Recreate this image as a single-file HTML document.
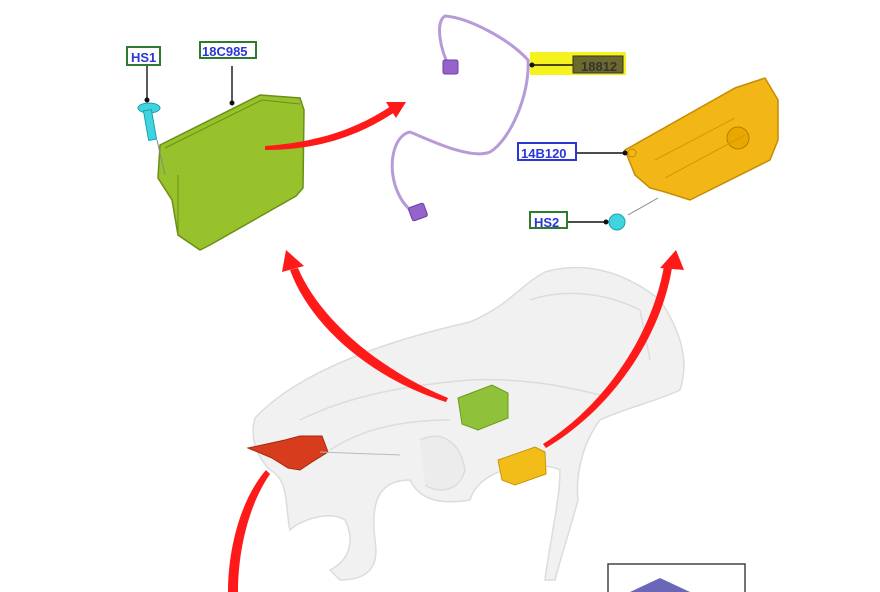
<!DOCTYPE html>
<html><head><meta charset="utf-8"><style>
html,body{margin:0;padding:0;background:#fff;width:880px;height:592px;overflow:hidden}
svg text{font-family:"Liberation Sans",sans-serif;font-weight:bold;font-size:13px;fill:#2a36d8}
</style></head><body>
<svg width="880" height="592" viewBox="0 0 880 592" xmlns="http://www.w3.org/2000/svg">
<g fill="#f1f1f1" stroke="#dcdcdc" stroke-width="1.5">
<path d="M255,418 C300,370 390,340 470,322 C510,305 520,285 545,272 C580,262 620,268 660,300 C680,330 690,360 680,390 C660,400 620,410 600,420 C585,440 575,470 578,500 C570,530 560,560 555,580 L545,580 C550,540 560,500 560,470 C540,460 480,465 470,500 C440,505 420,500 410,480 C380,480 370,500 375,540 C380,570 365,580 340,580 L330,570 C350,560 355,540 345,520 C330,510 300,520 290,530 C285,510 290,480 270,470 C255,455 250,435 255,418 Z"/>
<path d="M300,420 C350,395 410,385 470,380 C520,378 560,385 600,395" fill="none"/>
<path d="M330,450 C360,430 400,420 450,420" fill="none"/>
<path d="M420,440 C440,430 460,440 465,470 C460,490 440,495 425,485" fill="#ececec"/>
<path d="M530,300 C560,290 600,290 640,310 L650,360" fill="none"/>
</g>
<path d="M458,398 L492,385 L508,393 L508,418 L478,430 L462,424 Z" fill="#8fc23a" stroke="#6a9a1e"/>
<path d="M498,460 L535,447 L545,452 L546,474 L515,485 L502,480 Z" fill="#f2bd18" stroke="#c9960a"/>
<path d="M248,448 L285,440 L300,436 L322,436 L328,452 L312,462 L300,470 L288,468 L272,458 Z" fill="#d73c1c" stroke="#a8280e"/>
<line x1="320" y1="452" x2="400" y2="455" stroke="#bbb"/>
<g fill="#ff1a1a">
<path d="M448,398 C380,370 320,320 298,268 L290,270 C310,325 370,378 446,402 Z"/>
<polygon points="286,250 282,272 304,266"/>
<path d="M546,448 C610,410 660,340 672,268 L664,266 C652,335 605,405 543,444 Z"/>
<polygon points="676,250 660,268 684,270"/>
<path d="M266,470 C240,500 228,550 228,592 L238,592 C238,552 248,506 270,474 Z"/>
</g>
<path d="M160,145 L260,95 L300,98 L304,110 L303,188 L296,196 L210,245 L200,250 L178,235 L172,200 L158,178 Z" fill="#98c22c" stroke="#6c8e16" stroke-width="1.5"/>
<path d="M165,148 L262,100 L300,104" fill="none" stroke="#6c8e16"/>
<path d="M178,175 L178,232" stroke="#6c8e16"/>
<g fill="#ff1a1a">
<path d="M265,150 C320,150 360,135 395,112 L391,106 C358,128 320,142 265,146 Z"/>
<polygon points="406,102 386,102 396,118"/>
</g>
<line x1="147" y1="65" x2="147" y2="100" stroke="#222" stroke-width="1.5"/>
<circle cx="147" cy="100" r="2.5" fill="#111"/>
<line x1="157" y1="140" x2="165" y2="175" stroke="#888"/>
<ellipse cx="149" cy="108" rx="11" ry="5" fill="#3fd4e0" stroke="#1aa0b0"/>
<rect x="146" y="110" width="8" height="30" fill="#3fd4e0" stroke="#1aa0b0" transform="rotate(-10 150 125)"/>
<line x1="232" y1="66" x2="232" y2="103" stroke="#222" stroke-width="1.5"/>
<circle cx="232" cy="103" r="2.5" fill="#111"/>
<rect x="127" y="47" width="33" height="18" fill="#fff" stroke="#2e7a2e" stroke-width="2"/>
<text x="131" y="62">HS1</text>
<rect x="200" y="42" width="56" height="16" fill="#fff" stroke="#2e7a2e" stroke-width="2"/>
<text x="202" y="56">18C985</text>
<path d="M450,68 C440,50 435,22 445,16 C470,18 510,40 528,60 C530,95 510,140 490,152 C470,160 430,140 410,132 C395,135 388,160 395,185 C400,200 405,205 412,212" fill="none" stroke="#b79ad8" stroke-width="3"/>
<rect x="443" y="60" width="15" height="14" rx="2" fill="#9563c9" stroke="#6a3fa3"/>
<rect x="410" y="205" width="16" height="14" rx="2" fill="#9563c9" stroke="#6a3fa3" transform="rotate(-20 418 212)"/>
<rect x="530" y="52" width="96" height="23" fill="#f6f21e"/>
<line x1="532" y1="65" x2="573" y2="65" stroke="#111" stroke-width="1.5"/>
<circle cx="532" cy="65" r="2.5" fill="#111"/>
<rect x="573" y="56" width="50" height="17" fill="#6b6a2a" stroke="#333" stroke-width="1"/>
<text x="581" y="71" style="fill:#333">18812</text>
<path d="M625,150 L735,88 L765,78 L778,100 L778,140 L770,160 L690,200 L665,192 L650,188 L635,175 Z" fill="#f2b616" stroke="#c68c00" stroke-width="1.5"/>
<circle cx="738" cy="138" r="11" fill="#e8a800" stroke="#b67e00"/>
<path d="M655,160 L735,118 M665,178 L745,135" stroke="#d39a00" fill="none"/>
<circle cx="632" cy="153" r="4" fill="#f2b616" stroke="#c68c00"/>
<line x1="576" y1="153" x2="625" y2="153" stroke="#111" stroke-width="1.5"/>
<circle cx="625" cy="153" r="2.5" fill="#111"/>
<rect x="518" y="143" width="58" height="17" fill="#fff" stroke="#2a36d8" stroke-width="2"/>
<text x="521" y="158">14B120</text>
<line x1="628" y1="215" x2="658" y2="198" stroke="#888"/>
<line x1="567" y1="222" x2="606" y2="222" stroke="#111" stroke-width="1.5"/>
<circle cx="606" cy="222" r="2.5" fill="#111"/>
<circle cx="617" cy="222" r="8" fill="#3fd4e0" stroke="#1aa0b0"/>
<rect x="530" y="212" width="37" height="16" fill="#fff" stroke="#2e7a2e" stroke-width="2"/>
<text x="534" y="227">HS2</text>
<rect x="608" y="564" width="137" height="40" fill="#fff" stroke="#444" stroke-width="1.5"/>
<path d="M630,592 L660,578 L690,592 Z" fill="#6a66b8"/>
</svg>
</body></html>
